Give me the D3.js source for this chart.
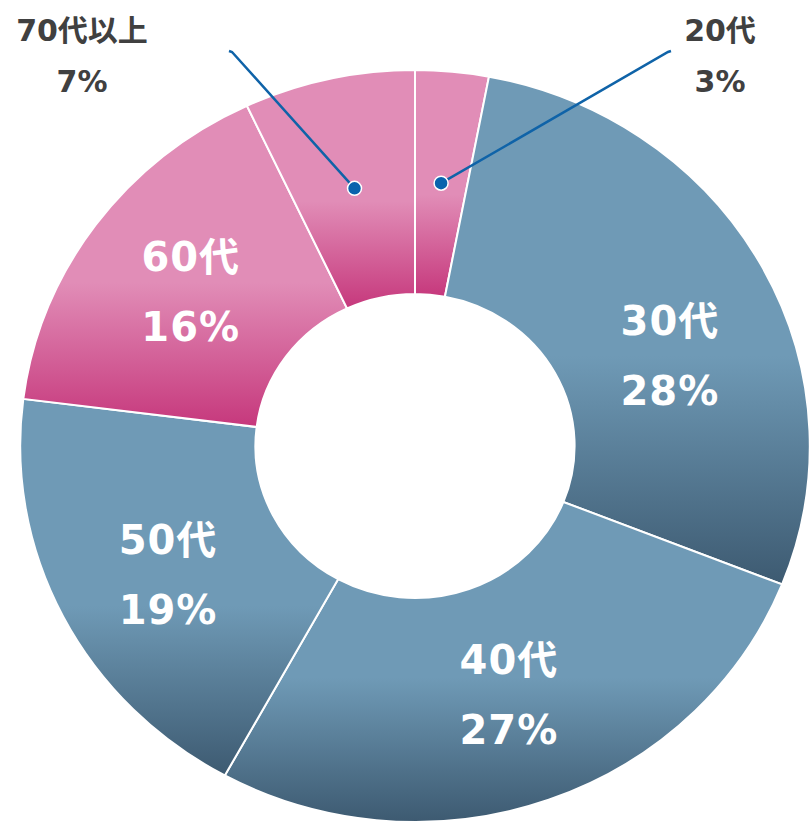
<!DOCTYPE html>
<html>
<head>
<meta charset="utf-8">
<script src="https://cdn.jsdelivr.net/npm/d3@7"></script>
<style>
  html, body { margin: 0; padding: 0; background: #fff; }
  svg { display: block; }
</style>
</head>
<body>
<div id="chart"></div>
<script>
// age groups, share in %
var ages = ["20代", "30代", "40代", "50代", "60代", "70代以上"];
var shares = [3, 28, 27, 19, 16, 7];
var groups = ["pink", "blue", "blue", "blue", "pink", "pink"];
// which slices get their label outside with a leader line
var outside = [true, false, false, false, false, true];

var width = 811, height = 824;
var cx = 415, cy = 446;
var outerR = 376, innerR = 152;
var stretchX = 1.05; // the picture is a little wider than tall

var palette = {
  blue: { light: "#6f9ab6", dark: "#3d5a71" },
  pink: { light: "#e18db7", dark: "#c6387c" }
};

var svg = d3.select("#chart").append("svg")
  .attr("width", width)
  .attr("height", height);

var defs = svg.append("defs");
Object.keys(palette).forEach(function(k) {
  var g = defs.append("linearGradient")
    .attr("id", "grad-" + k)
    .attr("x1", 0).attr("y1", 0)
    .attr("x2", 0).attr("y2", 1);
  g.append("stop").attr("offset", 0).attr("stop-color", palette[k].light);
  g.append("stop").attr("offset", 0.55).attr("stop-color", palette[k].light);
  g.append("stop").attr("offset", 1).attr("stop-color", palette[k].dark);
});

var data = ages.map(function(a, i) {
  return { age: a, share: shares[i], group: groups[i], outside: outside[i] };
});

var pie = d3.pie()
  .value(function(d) { return d.share; })
  .sort(null);

var arc = d3.arc()
  .innerRadius(innerR)
  .outerRadius(outerR);

var arcs = pie(data);

var ring = svg.append("g")
  .attr("transform", "translate(" + cx + "," + cy + ") scale(" + stretchX + ",1)");

ring.selectAll("path")
  .data(arcs)
  .enter().append("path")
  .attr("d", arc)
  .attr("fill", function(d) { return "url(#grad-" + d.data.group + ")"; })
  .attr("stroke", "#fff")
  .attr("stroke-width", 2)
  .attr("vector-effect", "non-scaling-stroke");

// centroid in page coords
function place(d) {
  var c = arc.centroid(d);
  return [cx + c[0] * stretchX, cy + c[1]];
}

var font = "'DejaVu Sans', Verdana, 'Noto Sans CJK JP', sans-serif";

// labels inside the ring
var nudge = { "30代": [12, 36], "50代": [0, 8] };
var inner = svg.append("g");
arcs.filter(function(d) { return !d.data.outside; }).forEach(function(d) {
  var p = place(d);
  var n = nudge[d.data.age] || [0, 0];
  var x = p[0] + n[0];
  var t = inner.append("text")
    .attr("x", x)
    .attr("y", p[1] + n[1])
    .attr("text-anchor", "middle")
    .attr("fill", "#fff")
    .attr("font-family", font)
    .attr("font-weight", "bold")
    .attr("font-size", 40)
    .attr("letter-spacing", 1);
  t.append("tspan").attr("x", x).attr("dy", "-0.5em").text(d.data.age);
  t.append("tspan").attr("x", x).attr("dy", "1.75em").text(d.data.share + "%");
});

// outside labels with leader lines
var anchors = {
  "20代": { text: [720, 30], line: [668, 52] },
  "70代以上": { text: [82, 30], line: [232, 52] }
};
var lead = svg.append("g");
arcs.filter(function(d) { return d.data.outside; }).forEach(function(d) {
  var p = place(d);
  var a = anchors[d.data.age];
  lead.append("path")
    .attr("d", d3.line()([p, a.line, [a.line[0] + (a.line[0] < cx ? -3 : 3), a.line[1] - 1]]))
    .attr("fill", "none")
    .attr("stroke", "#0f63a8")
    .attr("stroke-width", 2.5);
  lead.append("circle")
    .attr("cx", p[0]).attr("cy", p[1])
    .attr("r", 7)
    .attr("fill", "#0a63ad")
    .attr("stroke", "#fff")
    .attr("stroke-width", 1.5);
  var t = lead.append("text")
    .attr("x", a.text[0])
    .attr("y", a.text[1])
    .attr("text-anchor", "middle")
    .attr("fill", "#404040")
    .attr("font-family", font)
    .attr("font-weight", "bold")
    .attr("font-size", 30);
  t.append("tspan").attr("x", a.text[0]).attr("dy", "0.35em").text(d.data.age);
  t.append("tspan").attr("x", a.text[0]).attr("dy", "1.7em").text(d.data.share + "%");
});
</script>
</body>
</html>
